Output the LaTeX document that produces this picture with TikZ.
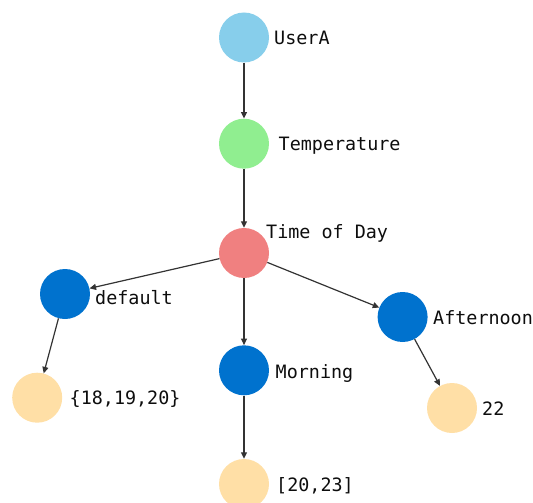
\documentclass[tikz,border=0pt]{standalone}
\usepackage{fontspec}
\setmonofont{DejaVu Sans Mono}
\usetikzlibrary{arrows.meta}
\definecolor{userblue}{HTML}{87CEEB}
\definecolor{tempgreen}{HTML}{90EE90}
\definecolor{daycoral}{HTML}{F08080}
\definecolor{slotblue}{HTML}{0072CE}
\definecolor{valuesand}{HTML}{FFDFA6}
\definecolor{edgegray}{HTML}{333333}
\begin{document}
\begin{tikzpicture}[x=1pt,y=-1pt,
		vertex/.style={circle,minimum size=50pt,inner sep=0pt,draw=none},
		lbl/.style={anchor=base west,inner sep=0pt,text=black!95,
			font=\ttfamily\fontsize{18.4}{20}\selectfont},
		link/.style={-{Triangle[length=6.5pt,width=6pt]},line width=1.2pt,draw=edgegray}]
	\useasboundingbox (0,0) rectangle (533,503);

	\node[vertex,fill=userblue] (user) at (244,37.5) {};
	\node[vertex,fill=tempgreen] (temp) at (244,143.7) {};
	\node[vertex,fill=daycoral] (day) at (244,253) {};
	\node[vertex,fill=slotblue] (default) at (65,294) {};
	\node[vertex,fill=slotblue] (morning) at (244,370.3) {};
	\node[vertex,fill=slotblue] (afternoon) at (402.6,317) {};
	\node[vertex,fill=valuesand] (defval) at (37.2,397.7) {};
	\node[vertex,fill=valuesand] (mornval) at (244,484) {};
	\node[vertex,fill=valuesand] (aftval) at (452,408) {};

	\node[lbl] (userlbl) at (274,44.3) {UserA};
	\node[lbl] (templbl) at (278.5,150.5) {Temperature};
	\node[lbl] (daylbl) at (266,238.9) {Time of Day};
	\node[lbl] (defaultlbl) at (95,304.2) {default};
	\node[lbl] (afternoonlbl) at (433,324) {Afternoon};
	\node[lbl] (morninglbl) at (275.5,378) {Morning};
	\node[lbl] (defvallbl) at (69.5,404.6) {\{18,19,20\}};
	\node[lbl] (aftvallbl) at (482,415.5) {22};
	\node[lbl] (mornvallbl) at (276,491.4) {[20,23]};

	\draw[link] (user) -- (temp);
	\draw[link] (temp) -- (day);
	\draw[link] (day) -- (default);
	\draw[link] (day) -- (morning);
	\draw[link] (day) -- (afternoon);
	\draw[link] (default) -- (defval);
	\draw[link] (morning) -- (mornval);
	\draw[link] (afternoon) -- (aftval);
\end{tikzpicture}
\end{document}
